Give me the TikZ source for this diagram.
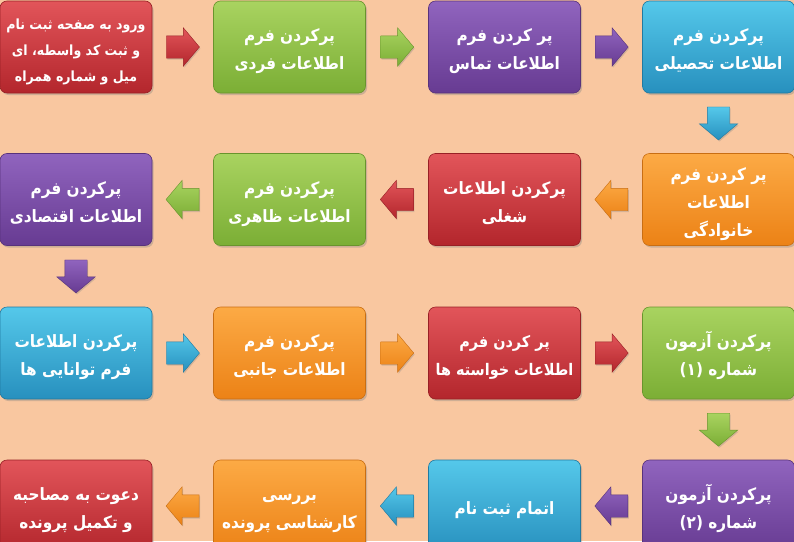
\documentclass[tikz,border=0pt]{standalone}
\usepackage{fontspec}
\newfontfamily\fa[Script=Arabic,FakeStretch=0.9]{DejaVu Sans}
\TeXXeTstate=1
\usetikzlibrary{shapes.arrows,shadows,calc}
\definecolor{bg}{HTML}{F9C7A0}
\definecolor{rtop}{HTML}{E2555A}\definecolor{rbot}{HTML}{B3262C}
\definecolor{gtop}{HTML}{A9D360}\definecolor{gbot}{HTML}{7BAE35}
\definecolor{ptop}{HTML}{9064BE}\definecolor{pbot}{HTML}{673B92}
\definecolor{btop}{HTML}{55C8EA}\definecolor{bbot}{HTML}{2790BE}
\definecolor{otop}{HTML}{FCAA45}\definecolor{obot}{HTML}{EC8216}
\tikzset{
  box/.style={rounded corners=7pt, minimum width=152pt, minimum height=92pt,
    inner sep=1pt, text=white, line width=0.6pt,
    font=\fa\bfseries\fontsize{17}{28}\selectfont,
    drop shadow={shadow xshift=1.5pt, shadow yshift=-2pt, opacity=0.35}},
  redbox/.style={box, top color=rtop, bottom color=rbot, draw=rbot!85!black},
  greenbox/.style={box, top color=gtop, bottom color=gbot, draw=gbot!85!black},
  purplebox/.style={box, top color=ptop, bottom color=pbot, draw=pbot!85!black},
  bluebox/.style={box, top color=btop, bottom color=bbot, draw=bbot!85!black},
  orangebox/.style={box, top color=otop, bottom color=obot, draw=obot!85!black},
  arr/.style={single arrow, minimum height=33pt, minimum width=38pt,
    single arrow head extend=8pt, single arrow tip angle=100,
    inner sep=0pt, line width=0.4pt, anchor=tail,
    drop shadow={shadow xshift=1pt, shadow yshift=-1.5pt, opacity=0.3}},
  redarr/.style={arr, top color=rtop, bottom color=rbot, draw=rbot!85!black},
  greenarr/.style={arr, top color=gtop, bottom color=gbot, draw=gbot!85!black},
  purplearr/.style={arr, top color=ptop, bottom color=pbot, draw=pbot!85!black},
  bluearr/.style={arr, top color=btop, bottom color=bbot, draw=bbot!85!black},
  orangearr/.style={arr, top color=otop, bottom color=obot, draw=obot!85!black},
  toleft/.style={shape border rotate=180},
  todown/.style={shape border rotate=270}
}
\newcommand{\rl}[1]{\beginR #1\endR}
\newcommand{\lines}[1]{\begin{tabular}{@{}c@{}}\rule{0pt}{25.6pt}#1\end{tabular}}
\newcommand{\shaft}{\rule{0pt}{22pt}}
\newcommand{\shaftv}{\rule{22pt}{0pt}}
\begin{document}
\begin{tikzpicture}
\useasboundingbox (0,0) rectangle (794pt,-541pt);
\clip (0,0) rectangle (794pt,-541pt);
\fill[bg] (0,0) rectangle (794pt,-541pt);
% row 1
\node[redbox, font=\fa\bfseries\fontsize{14}{26}\selectfont] (b1) at (76pt,-47pt)
  {\lines{\rl{ورود به صفحه ثبت نام}\\\rl{و ثبت کد واسطه، ای}\\\rl{میل و شماره همراه}}};
\node[greenbox] (b2) at (289.5pt,-47pt) {\lines{\rl{پرکردن فرم}\\\rl{اطلاعات فردی}}};
\node[purplebox] (b3) at (504.5pt,-47pt) {\lines{\rl{پر کردن فرم}\\\rl{اطلاعات تماس}}};
\node[bluebox] (b4) at (718.5pt,-47pt) {\lines{\rl{پرکردن فرم}\\\rl{اطلاعات تحصیلی}}};
% row 2
\node[orangebox] (b5) at (718.5pt,-199.5pt)
  {\lines{\rl{پر کردن فرم}\\\rl{اطلاعات}\\\rl{خانوادگی}}};
\node[redbox] (b6) at (504.5pt,-199.5pt) {\lines{\rl{پرکردن اطلاعات}\\\rl{شغلی}}};
\node[greenbox] (b7) at (289.5pt,-199.5pt) {\lines{\rl{پرکردن فرم}\\\rl{اطلاعات ظاهری}}};
\node[purplebox] (b8) at (76pt,-199.5pt) {\lines{\rl{پرکردن فرم}\\\rl{اطلاعات اقتصادی}}};
% row 3
\node[bluebox] (b9) at (76pt,-353pt) {\lines{\rl{پرکردن اطلاعات}\\\rl{فرم توانایی ها}}};
\node[orangebox] (b10) at (289.5pt,-353pt) {\lines{\rl{پرکردن فرم}\\\rl{اطلاعات جانبی}}};
\node[redbox, font=\fa\bfseries\fontsize{16}{28}\selectfont] (b11) at (504.5pt,-353pt) {\lines{\rl{پر کردن فرم}\\\rl{اطلاعات خواسته ها}}};
\node[greenbox] (b12) at (718.5pt,-353pt) {\lines{\rl{پرکردن آزمون}\\\rl{شماره (۱)}}};
% row 4
\node[purplebox] (b13) at (718.5pt,-506pt) {\lines{\rl{پرکردن آزمون}\\\rl{شماره (۲)}}};
\node[bluebox] (b14) at (504.5pt,-506pt) {\lines{\rl{اتمام ثبت نام}}};
\node[orangebox] (b15) at (289.5pt,-506pt) {\lines{\rl{بررسی}\\\rl{کارشناسی پرونده}}};
\node[redbox] (b16) at (76pt,-506pt) {\lines{\rl{دعوت به مصاحبه}\\\rl{و تکمیل پرونده}}};
% arrows (placed by their tail, half an arrow length before the gap's middle)
\node[redarr] (a1) at ($($(b1.east)!0.5!(b2.west)$)+(-16.5pt,0)$) {\shaft};
\node[greenarr] (a2) at ($($(b2.east)!0.5!(b3.west)$)+(-16.5pt,0)$) {\shaft};
\node[purplearr] (a3) at ($($(b3.east)!0.5!(b4.west)$)+(-16.5pt,0)$) {\shaft};
\node[bluearr, todown] (a4) at ($($(b4.south)!0.5!(b5.north)$)+(0,16.5pt)$) {\shaftv};
\node[orangearr, toleft] (a5) at ($($(b5.west)!0.5!(b6.east)$)+(16.5pt,0)$) {\shaft};
\node[redarr, toleft] (a6) at ($($(b6.west)!0.5!(b7.east)$)+(16.5pt,0)$) {\shaft};
\node[greenarr, toleft] (a7) at ($($(b7.west)!0.5!(b8.east)$)+(16.5pt,0)$) {\shaft};
\node[purplearr, todown] (a8) at ($($(b8.south)!0.5!(b9.north)$)+(0,16.5pt)$) {\shaftv};
\node[bluearr] (a9) at ($($(b9.east)!0.5!(b10.west)$)+(-16.5pt,0)$) {\shaft};
\node[orangearr] (a10) at ($($(b10.east)!0.5!(b11.west)$)+(-16.5pt,0)$) {\shaft};
\node[redarr] (a11) at ($($(b11.east)!0.5!(b12.west)$)+(-16.5pt,0)$) {\shaft};
\node[greenarr, todown] (a12) at ($($(b12.south)!0.5!(b13.north)$)+(0,16.5pt)$) {\shaftv};
\node[purplearr, toleft] (a13) at ($($(b13.west)!0.5!(b14.east)$)+(16.5pt,0)$) {\shaft};
\node[bluearr, toleft] (a14) at ($($(b14.west)!0.5!(b15.east)$)+(16.5pt,0)$) {\shaft};
\node[orangearr, toleft] (a15) at ($($(b15.west)!0.5!(b16.east)$)+(16.5pt,0)$) {\shaft};
\end{tikzpicture}
\end{document}
